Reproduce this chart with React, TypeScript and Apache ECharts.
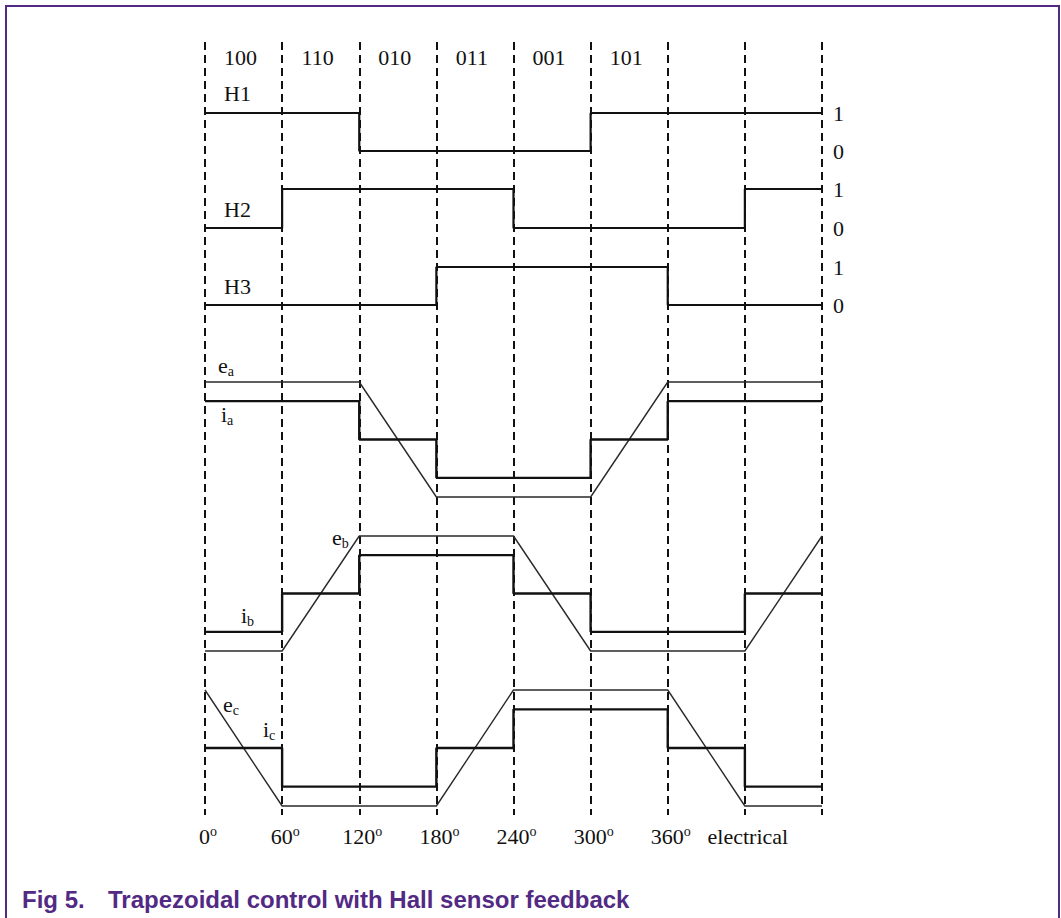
import React, { useEffect, useRef } from "react";
import * as echarts from "echarts";

// ---- data ----
const angles = [0, 60, 120, 180, 240, 300, 360, 420, 480];
const hallCodes = ["100", "110", "010", "011", "001", "101", "", ""];
const degreeLabels = ["0", "60", "120", "180", "240", "300", "360", "electrical", ""];

// Hall sensor states per 60° segment
const h1 = [1, 1, 0, 0, 0, 1, 1, 1];
const h2 = [0, 1, 1, 1, 0, 0, 0, 1];
const h3 = [0, 0, 0, 1, 1, 1, 0, 0];

// back-EMF (trapezoid) values at each angle
const ea = [1.5, 1.5, 1.5, -1.5, -1.5, -1.5, 1.5, 1.5, 1.5];
const eb = [-1.5, -1.5, 1.5, 1.5, 1.5, -1.5, -1.5, -1.5, 1.5];
const ec = [1.5, -1.5, -1.5, -1.5, 1.5, 1.5, 1.5, -1.5, -1.5];

// phase currents per 60° segment
const ia = [1, 1, 0, -1, -1, 0, 1, 1];
const ib = [-1, 0, 1, 1, 0, -1, -1, 0];
const ic = [0, -1, -1, 0, 1, 1, 0, -1];

const SERIF = "'Liberation Serif', 'Times New Roman', serif";
const SANS = "'Liberation Sans', Arial, sans-serif";
const PURPLE = "#522a84";

function stepData(seg: number[]) {
  const pts = seg.map((v, i) => [angles[i], v]);
  pts.push([angles[angles.length - 1], seg[seg.length - 1]]);
  return pts;
}
function pointData(vals: number[]) {
  return vals.map((v, i) => [angles[i], v]);
}

export default function App() {
  const ref = useRef<HTMLDivElement>(null);
  useEffect(() => {
    if (!ref.current) return;
    const chart = echarts.init(ref.current, undefined, { renderer: "svg" });
    const L = 205;
    const W = 617;
    const grids = [
      { left: L, width: W, top: 42, height: 773 }, // guide
      { left: L, width: W, top: 113, height: 38 }, // H1
      { left: L, width: W, top: 189, height: 39 }, // H2
      { left: L, width: W, top: 267, height: 38 }, // H3
      { left: L, width: W, top: 382, height: 115 }, // a
      { left: L, width: W, top: 536, height: 115 }, // b
      { left: L, width: W, top: 690, height: 116 }, // c
    ];
    const hidden = {
      axisLine: { show: false },
      axisTick: { show: false },
      axisLabel: { show: false },
      splitLine: { show: false },
    };
    const xAxes: any[] = [
      {
        type: "value",
        gridIndex: 0,
        min: 0,
        max: 480,
        interval: 60,
        position: "bottom",
        axisLine: { show: false },
        axisTick: { show: false },
        splitLine: {
          show: true,
          lineStyle: { color: "#111", width: 2, type: [8, 5] },
        },
        axisLabel: {
          show: true,
          margin: 9,
          padding: [0, 0, 0, 6],
          formatter: (v: number) => {
            const lab = degreeLabels[angles.indexOf(v)] ?? "";
            if (lab === "") return "";
            if (lab === "electrical") return "{e|electrical}";
            return `{n|${lab}}{d|o}`;
          },
          rich: {
            n: { fontSize: 22, fontFamily: SERIF, color: "#111", lineHeight: 24 },
            d: { fontSize: 14, fontFamily: SERIF, color: "#111", verticalAlign: "top", lineHeight: 24 },
            e: { fontSize: 22, fontFamily: SERIF, color: "#111", lineHeight: 24, padding: [0, 0, 0, 0] },
          },
        },
      },
      {
        type: "category",
        gridIndex: 0,
        position: "top",
        data: hallCodes,
        boundaryGap: true,
        axisLine: { show: false },
        axisTick: { show: false },
        splitLine: { show: false },
        axisLabel: {
          show: true,
          inside: true,
          margin: 4,
          interval: 0,
          fontSize: 22,
          fontFamily: SERIF,
          color: "#111",
          padding: [0, 6, 0, 0],
        },
      },
    ];
    for (let g = 1; g <= 6; g++) {
      xAxes.push({ type: "value", gridIndex: g, min: 0, max: 480, ...hidden });
    }
    const yAxes: any[] = [{ type: "value", gridIndex: 0, min: 0, max: 1, ...hidden }];
    for (let g = 1; g <= 3; g++) {
      yAxes.push({
        type: "value",
        gridIndex: g,
        min: 0,
        max: 1,
        interval: 1,
        position: "right",
        axisLine: { show: false },
        axisTick: { show: false },
        splitLine: { show: false },
        axisLabel: {
          show: true,
          margin: 11,
          fontSize: 22,
          fontFamily: SERIF,
          color: "#111",
        },
      });
    }
    for (let g = 4; g <= 6; g++) {
      yAxes.push({ type: "value", gridIndex: g, min: -1.5, max: 1.5, ...hidden });
    }

    const line = (name: string, data: any[], xi: number, yi: number, width: number, step?: string) => ({
      name,
      type: "line",
      xAxisIndex: xi,
      yAxisIndex: yi,
      data,
      step: step ?? false,
      symbol: "none",
      clip: false,
      silent: true,
      lineStyle: { color: width > 1.8 ? "#111" : "#2a2a2a", width },
    });

    const series: any[] = [
      line("H1", stepData(h1), 2, 1, 2.2, "end"),
      line("H2", stepData(h2), 3, 2, 2.2, "end"),
      line("H3", stepData(h3), 4, 3, 2.2, "end"),
      line("ea", pointData(ea), 5, 4, 1.4),
      line("ia", stepData(ia), 5, 4, 2.4, "end"),
      line("eb", pointData(eb), 6, 5, 1.4),
      line("ib", stepData(ib), 6, 5, 2.4, "end"),
      line("ec", pointData(ec), 7, 6, 1.4),
      line("ic", stepData(ic), 7, 6, 2.4, "end"),
    ];

    const sub = (left: number, top: number, main: string, s?: string) => ({
      type: "text",
      left,
      top,
      silent: true,
      style: {
        text: s ? `{m|${main}}{s|${s}}` : `{m|${main}}`,
        rich: {
          m: { fontSize: 22, fontFamily: SERIF, fill: "#111", lineHeight: 26 },
          s: { fontSize: 14, fontFamily: SERIF, fill: "#111", lineHeight: 26, verticalAlign: "bottom" },
        },
      },
    });

    chart.setOption({
      animation: false,
      backgroundColor: "#ffffff",
      grid: grids,
      xAxis: xAxes,
      yAxis: yAxes,
      series,
      title: {
        left: 22,
        top: 887,
        padding: 0,
        text: "{a|Fig 5.}{b|Trapezoidal control with Hall sensor feedback}",
        textStyle: {
          rich: {
            a: { fontSize: 24, fontWeight: "bold", fontFamily: SANS, color: PURPLE, width: 86 },
            b: { fontSize: 24, fontWeight: "bold", fontFamily: SANS, color: PURPLE },
          },
        },
      },
      graphic: [
        {
          type: "polyline",
          silent: true,
          shape: { points: [[6, 918], [6, 6], [1059, 6], [1059, 918]] },
          style: { stroke: PURPLE, lineWidth: 2, fill: "none" },
        },
        sub(224, 82, "H1"),
        sub(224, 198, "H2"),
        sub(224, 275, "H3"),
        sub(218, 354, "e", "a"),
        sub(221, 403, "i", "a"),
        sub(332, 526, "e", "b"),
        sub(241, 604, "i", "b"),
        sub(223, 693, "e", "c"),
        sub(263, 718, "i", "c"),
      ],
    });
    return () => chart.dispose();
  }, []);
  return (
    <div
      ref={ref}
      style={{ position: "fixed", left: 0, top: 0, width: 1061, height: 918, background: "#fff" }}
    />
  );
}
